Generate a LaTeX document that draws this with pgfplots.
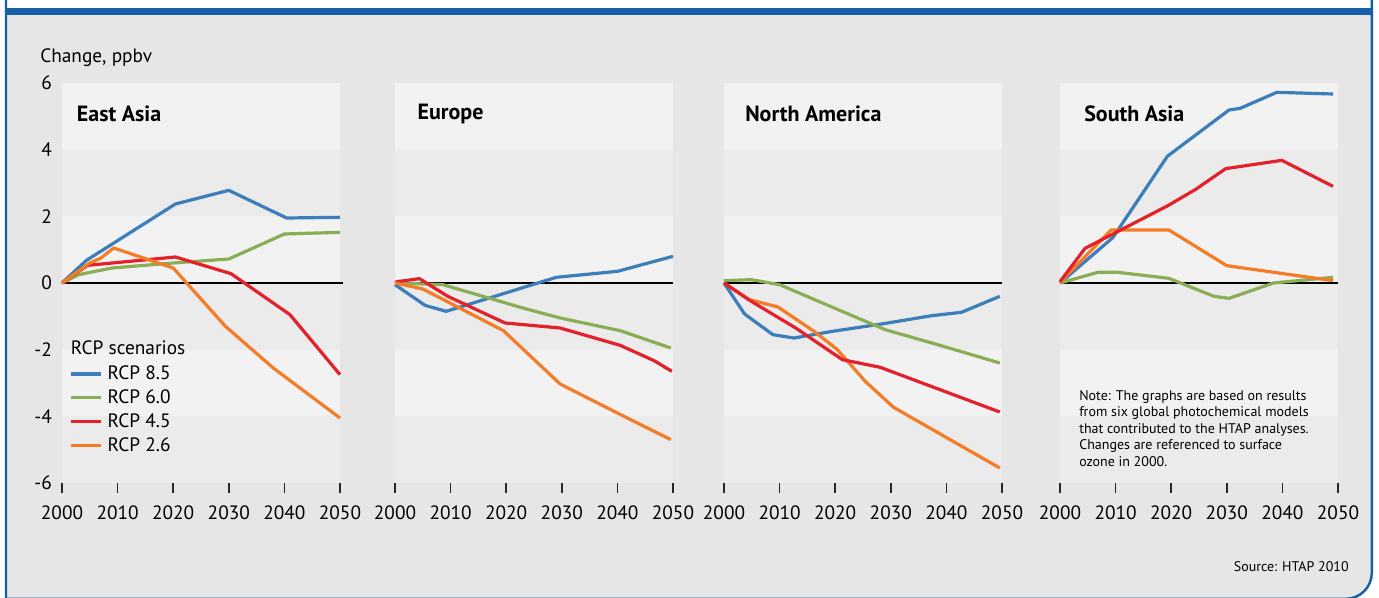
\documentclass[border=0pt]{standalone}
\usepackage{pgfplots}
\pgfplotsset{compat=1.18}
\usepackage{fontspec}
\setmainfont{PT Sans}
\definecolor{cA}{HTML}{3B7EB9}
\definecolor{cB}{HTML}{8AAE55}
\definecolor{cC}{HTML}{E4202B}
\definecolor{cD}{HTML}{F47C27}
\definecolor{bg}{HTML}{E6E6E6}
\definecolor{bandL}{HTML}{F2F2F2}
\definecolor{bandD}{HTML}{EBEBEB}
\definecolor{frame}{HTML}{145FA8}
\pgfplotsset{panel/.style={
  scale only axis, width=208.5pt, height=300pt, anchor=south west,
  xmin=2000, xmax=2050, ymin=-6, ymax=6, clip=false,
  axis line style={draw=none}, tick pos=left,
  xtick={2000,2010,2020,2030,2040,2050},
  xticklabels={2000,2010,2020,2030,2040,2050},
  xtick align=outside, major tick length=7.5pt,
  xtick style={draw=black!85, line width=1.2pt},
  ytick={-6,-4,-2,0,2,4,6}, ytick style={draw=none}, yticklabels={},
  tick label style={font=\fontsize{14.5}{17}\selectfont},
  xticklabel style={yshift=-5.8pt},
  yticklabel style={xshift=-4pt},
  /pgf/number format/assume math mode=true,
  no markers,
  every axis plot/.append style={line width=2.4pt, line join=round},
}}
\begin{document}
\begin{tikzpicture}
\begin{scope}[x=0.75pt,y=-0.75pt]
\useasboundingbox (0,0) rectangle (1379,598);
\fill[white] (0,0) rectangle (1379,598);
\fill[bg] (6,12) -- (6,598.8) -- (1300,598.8) [rounded corners=19.5pt] -- (1371.8,598.8) [sharp corners] -- (1371.8,12) -- cycle;
\draw[frame, line width=1.8pt] (6,-2) -- (6,598.8) -- (1300,598.8) [rounded corners=19.5pt] -- (1371.8,598.8) [sharp corners] -- (1371.8,-2);
\fill[frame] (4.5,8) rectangle (1373,15.5);
\foreach \L in {62,395,724,1060} {
  \fill[bandL] (\L,83) rectangle (\L+278,149.67);
  \fill[bandD] (\L,149.67) rectangle (\L+278,216.33);
  \fill[bandL] (\L,216.33) rectangle (\L+278,283);
  \fill[bandD] (\L,283) rectangle (\L+278,349.67);
  \fill[bandL] (\L,349.67) rectangle (\L+278,416.33);
  \fill[bandD] (\L,416.33) rectangle (\L+278,483);
}
\end{scope}

% East Asia
\begin{axis}[panel, at={(62*0.75pt,-483*0.75pt)},
  yticklabels={-6,-4,-2,0,2,4,6},
  legend style={at={(0.025,0.303)}, anchor=north west, draw=none, fill=none, inner sep=0pt,
    font=\fontsize{14.5}{17}\selectfont, row sep=0pt,
    /tikz/every odd column/.append style={column sep=4pt},
    nodes={inner sep=0pt, text height=13pt, text depth=4.9pt}},
  legend cell align=left,
  legend image code/.code={\draw[#1] (0pt,0pt) -- (22.5pt,0pt);}]
\draw[black, line width=1.1pt] (axis cs:2000,0) -- (axis cs:2050.5,0);
\addplot[cA] coordinates {(2000,0) (2004.4,0.68) (2020.4,2.37) (2030,2.78) (2040.4,1.95) (2050,1.97)};
\addlegendentry{RCP 8.5}
\addplot[cB] coordinates {(2000,0) (2003,0.25) (2009,0.45) (2020,0.6) (2030,0.72) (2040,1.47) (2050,1.52)};
\addlegendentry{RCP 6.0}
\addplot[cC] coordinates {(2000,0) (2004.6,0.53) (2020.4,0.78) (2030.4,0.28) (2041,-0.95) (2050,-2.75)};
\addlegendentry{RCP 4.5}
\addplot[cD] coordinates {(2000,0) (2005,0.6) (2007,0.75) (2009.3,1.05) (2020,0.45) (2029.4,-1.3) (2038,-2.55) (2050,-4.05)};
\addlegendentry{RCP 2.6}
\end{axis}

% Europe
\begin{axis}[panel, at={(395*0.75pt,-483*0.75pt)}]
\draw[black, line width=1.1pt] (axis cs:2000,0) -- (axis cs:2050,0);
\addplot[cA] coordinates {(2000,-0.05) (2005.4,-0.67) (2009.2,-0.85) (2029,0.17) (2040,0.35) (2050,0.8)};
\addplot[cB] coordinates {(2000,0) (2008.6,-0.05) (2023,-0.75) (2029.7,-1.05) (2040.5,-1.43) (2049.6,-1.95)};
\addplot[cC] coordinates {(2000,0.02) (2000.8,0.05) (2004.4,0.13) (2009.5,-0.4) (2019.8,-1.2) (2029.7,-1.35) (2040.5,-1.87) (2046.6,-2.33) (2049.8,-2.65)};
\addplot[cD] coordinates {(2000,0) (2005,-0.18) (2019.5,-1.43) (2029.7,-3.03) (2040,-3.9) (2049.6,-4.7)};
\end{axis}

% North America
\begin{axis}[panel, at={(724*0.75pt,-483*0.75pt)}]
\draw[black, line width=1.1pt] (axis cs:2000,0) -- (axis cs:2050,0);
\addplot[cA] coordinates {(2000,0) (2003.7,-0.93) (2008.8,-1.55) (2012.6,-1.65) (2019.5,-1.45) (2028.7,-1.22) (2037.4,-0.98) (2042.7,-0.88) (2049.6,-0.4)};
\addplot[cB] coordinates {(2000,0.07) (2004.9,0.1) (2010,-0.05) (2020.1,-0.77) (2029,-1.4) (2037.4,-1.8) (2049.6,-2.4)};
\addplot[cD] coordinates {(2000,0) (2004.6,-0.5) (2009.7,-0.72) (2016.2,-1.45) (2020.4,-2.0) (2025.4,-2.95) (2030.5,-3.73) (2049.6,-5.55)};
\addplot[cC] coordinates {(2000,0) (2004.6,-0.52) (2012.9,-1.35) (2021.3,-2.3) (2028.1,-2.53) (2049.6,-3.87)};
\end{axis}

% South Asia
\begin{axis}[panel, at={(1060*0.75pt,-483*0.75pt)}]
\draw[black, line width=1.1pt] (axis cs:2000,0) -- (axis cs:2050,0);
\addplot[cA] coordinates {(2000,0) (2009.5,1.36) (2019.3,3.8) (2030.4,5.19) (2032.4,5.24) (2039,5.72) (2049.1,5.67)};
\addplot[cB] coordinates {(2000,0) (2006.8,0.32) (2010.4,0.32) (2019.6,0.14) (2027.7,-0.4) (2030.4,-0.46) (2038.4,0) (2049.1,0.17)};
\addplot[cD] coordinates {(2000,0.02) (2009.2,1.59) (2019.6,1.59) (2030,0.52) (2049.1,0.07)};
\addplot[cC] coordinates {(2000,0.04) (2004.5,1.04) (2019.3,2.31) (2024.4,2.81) (2029.8,3.43) (2039.9,3.68) (2049.1,2.9)};
\end{axis}

\begin{scope}[x=0.75pt,y=-0.75pt]
\node[anchor=base west, inner sep=0pt, font=\fontsize{14.5}{17}\selectfont] at (40,63) {Change, ppbv};
\node[anchor=base west, inner sep=0pt, font=\fontsize{16.5}{20}\selectfont\bfseries] at (76.7,121.5) {East Asia};
\node[anchor=base west, inner sep=0pt, font=\fontsize{16.5}{20}\selectfont\bfseries] at (417.3,119.5) {Europe};
\node[anchor=base west, inner sep=0pt, font=\fontsize{16.5}{20}\selectfont\bfseries] at (745,122) {North America};
\node[anchor=base west, inner sep=0pt, font=\fontsize{16.5}{20}\selectfont\bfseries] at (1084,122) {South Asia};
\node[anchor=base west, inner sep=0pt, font=\fontsize{14.5}{17}\selectfont] at (70.7,355) {RCP scenarios};
\node[anchor=north west, inner sep=0pt, align=left, font=\fontsize{10.5}{12.4}\selectfont] at (1079,390) {Note: The graphs are based on results\\from six global photochemical models\\that contributed to the HTAP analyses.\\Changes are referenced to surface\\ozone in 2000.};
\node[anchor=base east, inner sep=0pt, font=\fontsize{10.5}{12.4}\selectfont] at (1349,571) {Source: HTAP 2010};
\end{scope}
\end{tikzpicture}
\end{document}
